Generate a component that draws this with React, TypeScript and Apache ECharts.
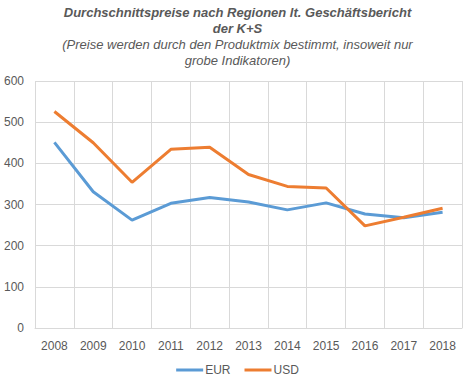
import React, { useEffect, useRef } from "react";
import * as echarts from "echarts";

const years = ["2008", "2009", "2010", "2011", "2012", "2013", "2014", "2015", "2016", "2017", "2018"];
const eur = [451, 331, 262, 303, 317, 306, 287, 304, 277, 268, 281];
const usd = [526, 450, 354, 434, 439, 373, 344, 340, 248, 269, 291];

export default function App() {
  const ref = useRef<HTMLDivElement>(null);
  useEffect(() => {
    const chart = echarts.init(ref.current!, null, { renderer: "svg" });
    const font = "'Liberation Sans', Arial, sans-serif";
    chart.setOption({
      animation: false,
      textStyle: { fontFamily: font },
      title: {
        text: "Durchschnittspreise nach Regionen lt. Geschäftsbericht\nder K+S",
        subtext: "(Preise werden durch den Produktmix bestimmt, insoweit nur\ngrobe Indikatoren)",
        left: "center",
        top: 0,
        padding: [4, 5, 5, 5],
        itemGap: 0,
        textStyle: { fontFamily: font, fontSize: 13, fontWeight: "bold", fontStyle: "italic", color: "#595959", lineHeight: 16 },
        subtextStyle: { fontFamily: font, fontSize: 13, fontStyle: "italic", color: "#595959", lineHeight: 16 },
      },
      legend: {
        top: 359,
        left: "center",
        itemWidth: 27,
        itemHeight: 3,
        itemGap: 14,
        icon: "rect",
        textStyle: { fontFamily: font, fontSize: 12, color: "#595959", padding: [0, 0, 0, -3] },
        data: ["EUR", "USD"],
      },
      grid: { left: 35, right: 13, top: 81, bottom: 53, containLabel: false },
      xAxis: {
        type: "category",
        data: years,
        boundaryGap: true,
        axisLine: { lineStyle: { color: "#d9d9d9" } },
        axisTick: { show: false },
        axisLabel: { color: "#595959", fontSize: 12, margin: 12, fontFamily: font },
        splitLine: { show: true, lineStyle: { color: "#d9d9d9" } },
      },
      yAxis: {
        type: "value",
        min: 0,
        max: 600,
        interval: 100,
        axisLine: { show: false },
        axisTick: { show: false },
        axisLabel: { color: "#595959", fontSize: 12, margin: 11, fontFamily: font },
        splitLine: { lineStyle: { color: "#d9d9d9" } },
      },
      series: [
        { name: "EUR", type: "line", data: eur, symbol: "none", lineStyle: { width: 3, color: "#5B9BD5" }, itemStyle: { color: "#5B9BD5" } },
        { name: "USD", type: "line", data: usd, symbol: "none", lineStyle: { width: 3, color: "#ED7D31" }, itemStyle: { color: "#ED7D31" } },
      ],
    });
    return () => chart.dispose();
  }, []);
  return <div ref={ref} style={{ width: 475, height: 381, position: "absolute", left: 0, top: 0 }} />;
}
